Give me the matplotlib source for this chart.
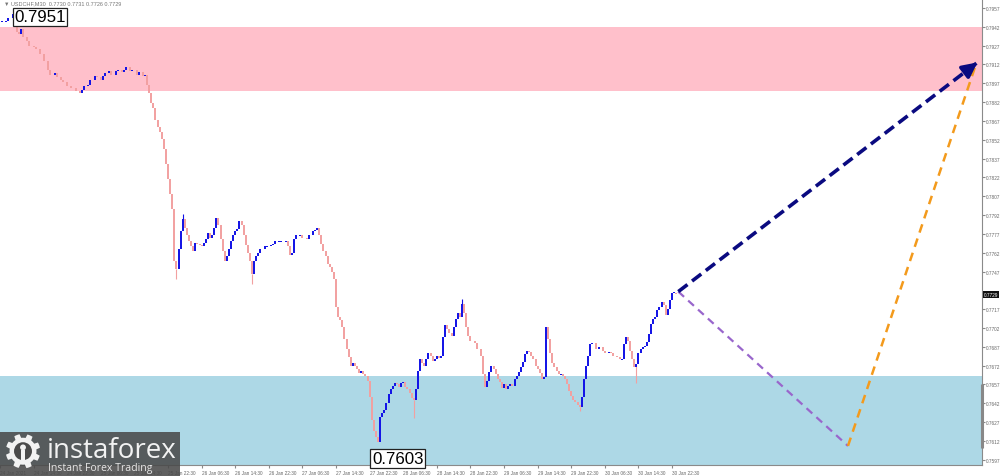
import matplotlib
matplotlib.use("Agg")
import matplotlib.pyplot as plt
from matplotlib.patches import Rectangle, Polygon, Circle
import numpy as np

# USDCHF M30 - bar index (half-hour steps from the left edge) and close
bars = [1, 3, 4, 6, 7, 8, 9, 10, 11, 13, 14, 16, 17, 19, 21, 23, 24, 26, 27, 29,
        30, 32, 34, 36, 38, 39, 40, 42, 43, 45, 46, 48, 49, 50, 52, 53, 55, 56, 58, 59,
        60, 62, 63, 65, 66, 68, 69, 70, 71, 72, 73, 74, 75, 76, 77, 78, 79, 80, 81, 82,
        83, 84, 85, 86, 87, 88, 89, 90, 91, 92, 93, 94, 95, 96, 97, 98, 99, 100, 101, 102,
        103, 104, 105, 106, 107, 108, 109, 110, 111, 112, 113, 114, 115, 116, 117, 118, 119, 120, 121, 122,
        123, 124, 126, 127, 129, 130, 131, 133, 134, 136, 137, 138, 139, 140, 141, 143, 144, 146, 147, 149,
        150, 151, 152, 153, 154, 155, 156, 157, 158, 159, 160, 161, 162, 163, 164, 165, 166, 167, 168, 169,
        170, 171, 172, 173, 174, 175, 176, 177, 178, 179, 180, 181, 182, 183, 184, 185, 186, 187, 188, 189,
        190, 191, 192, 193, 194, 195, 196, 197, 198, 199, 200, 201, 202, 203, 204, 205, 206, 207, 208, 209,
        210, 211, 212, 213, 214, 215, 216, 217, 218, 219, 220, 221, 222, 223, 224, 226, 227, 229, 230, 231,
        232, 233, 234, 235, 236, 237, 238, 239, 240, 241, 242, 243, 244, 245, 246, 247, 248, 249, 250, 251,
        252, 253, 254, 255, 256, 257, 258, 259, 260, 261, 262, 263, 264, 265, 266, 267, 268, 269, 270, 271,
        272, 273, 274, 275, 276, 277, 278, 279, 280, 281, 282, 284, 285, 287, 288, 290, 291, 292, 294, 295,
        296, 297, 298, 299, 300, 301, 302, 303, 304, 305, 306, 307, 308, 309, 310, 311, 312, 313, 314, 315,
        316, 317, 318, 319, 320, 321, 322]
closes = [.7946, .7947, .7949, .7952, .7942, .7938, .7936, .7940, .7934, .7931, .7927, .7926, .7924, .7920, .7915, .7908, .7904, .7905, .7902, .7900,
          .7898, .7895, .7893, .7891, .7889, .7892, .7895, .7896, .7900, .7903, .7902, .7900, .7903, .7905, .7907, .7904, .7907, .7908, .7906, .7908,
          .7910, .7907, .7908, .7904, .7906, .7903, .7904, .7896, .7889, .7881, .7877, .7868, .7862, .7858, .7853, .7845, .7833, .7821, .7809, .7797,
          .7755, .7749, .7765, .7779, .7789, .7782, .7776, .7771, .7767, .7763, .7770, .7769, .7768, .7767, .7770, .7773, .7778, .7774, .7776, .7782,
          .7790, .7784, .7773, .7763, .7755, .7759, .7765, .7771, .7776, .7779, .7781, .7787, .7784, .7776, .7768, .7762, .7755, .7745, .7755, .7759,
          .7762, .7765, .7767, .7767, .7768, .7769, .7771, .7771, .7771, .7771, .7767, .7760, .7762, .7773, .7776, .7776, .7774, .7773, .7776, .7779,
          .7780, .7782, .7776, .7769, .7763, .7759, .7753, .7751, .7747, .7741, .7719, .7711, .7708, .7703, .7693, .7685, .7679, .7672, .7674, .7672,
          .7669, .7666, .7668, .7665, .7664, .7660, .7647, .7629, .7620, .7615, .7611, .7631, .7634, .7637, .7642, .7649, .7653, .7656, .7658, .7657,
          .7655, .7658, .7659, .7655, .7653, .7650, .7646, .7645, .7653, .7668, .7677, .7674, .7672, .7677, .7682, .7680, .7676, .7677, .7680, .7678,
          .7680, .7695, .7704, .7701, .7698, .7696, .7703, .7709, .7714, .7711, .7721, .7714, .7703, .7696, .7692, .7690, .7685, .7680, .7665, .7655,
          .7660, .7667, .7672, .7669, .7665, .7661, .7659, .7654, .7657, .7653, .7656, .7657, .7656, .7661, .7664, .7667, .7671, .7675, .7681, .7684,
          .7683, .7680, .7677, .7672, .7669, .7666, .7661, .7663, .7703, .7693, .7682, .7674, .7671, .7668, .7665, .7665, .7664, .7661, .7657, .7652,
          .7648, .7645, .7643, .7641, .7639, .7647, .7661, .7672, .7680, .7689, .7690, .7685, .7687, .7684, .7682, .7683, .7682, .7680, .7679, .7677,
          .7677, .7689, .7695, .7692, .7684, .7677, .7671, .7673, .7682, .7685, .7687, .7688, .7691, .7697, .7705, .7709, .7711, .7716, .7719, .7723,
          .7720, .7712, .7717, .7724, .7730, .7730, .7729]

# long wicks that stick out of the bars
wick_bars = [84, 87, 120, 197, 220, 276, 303]
wick_prices = [.7741, .7793, .7737, .7630, .7725, .7636, .7658]

# zones and wave labels
sell_zone = (.7891, .7942)
buy_zone = (.7590, .7664)
high_label = (6.8, .7950, "0.7951")
low_label = (177.2, .7598, "0.7603")

# forecast paths
main_path_bars = [323, 466.5]
main_path_prices = [.7731, .7915]
alt_path_bars = [323, 403.8, 464.3]
alt_path_prices = [.7731, .7608, .7910]

price_ticks = [.7597, .7612, .7627, .7642, .7657, .7672, .7687, .7702, .7717,
               .7747, .7762, .7777, .7792, .7807, .7822, .7837, .7852, .7867,
               .7882, .7897, .7912, .7927, .7942, .7957]
time_ticks = [0, 16, 32, 48, 64, 80, 96, 112, 128, 144, 160, 176, 192, 208,
              224, 240, 256, 272, 288, 304, 320]
time_labels = ["24 Jan 2021", "24 Jan 14:30", "24 Jan 22:30", "25 Jan 06:30",
               "25 Jan 14:30", "25 Jan 22:30", "26 Jan 06:30", "26 Jan 14:30",
               "26 Jan 22:30", "27 Jan 06:30", "27 Jan 14:30", "27 Jan 22:30",
               "28 Jan 06:30", "28 Jan 14:30", "28 Jan 22:30", "29 Jan 06:30",
               "29 Jan 14:30", "29 Jan 22:30", "30 Jan 06:30", "30 Jan 14:30",
               "30 Jan 22:30"]
last_price = .7729

UP = "#1010e6"
DOWN = "#f2a0a0"
SMALL = "Liberation Sans"

fig = plt.figure(figsize=(10, 4.77), dpi=100)
ax = fig.add_axes([0, 11 / 477, 0.982, 466 / 477])
ax.set_xlim(0, 982 / 2.1)
ax.set_ylim(0.75928, 0.79642)

ax.axhspan(*sell_zone, color="#ffc0cb", lw=0, zorder=0)
ax.axhspan(*buy_zone, color="#add8e6", lw=0, zorder=0)

# bars: drawn from previous close to close
prev = closes[0]
for b, c in zip(bars, closes):
    lo, hi = min(prev, c), max(prev, c)
    if hi - lo < 0.00006:
        lo, hi = lo - 0.00003, hi + 0.00003
    col = UP if c >= prev else DOWN
    ax.vlines(b, lo, hi, colors=col, lw=1.4, zorder=3)
    prev = c

for b, p in zip(wick_bars, wick_prices):
    c = closes[bars.index(b)]
    ax.vlines(b, min(p, c), max(p, c), colors=DOWN if p < c else UP, lw=0.8, zorder=2)

# forecast lines
ax.plot(alt_path_bars[:2], alt_path_prices[:2], color="#9966cc", lw=1.6,
        ls=(0, (3.5, 2.5)), zorder=4)
ax.plot(alt_path_bars[1:], alt_path_prices[1:], color="#f39a1c", lw=1.8,
        ls=(0, (3.5, 2.5)), zorder=4)
ax.plot(main_path_bars, main_path_prices, color="#0a0a80", lw=2.6,
        ls=(0, (3.2, 1.6)), zorder=5)
ax.annotate("", xy=(main_path_bars[1], main_path_prices[1]),
            xytext=(main_path_bars[1] - 6, main_path_prices[1] - 0.00077),
            arrowprops=dict(arrowstyle="-|>", color="#0a0a80", lw=2.6,
                            mutation_scale=22), zorder=6)

# wave labels
box = dict(boxstyle="square,pad=0.1", fc="white", ec="#222222", lw=0.9)
for x, y, s in (high_label, low_label):
    ax.text(x, y, s, fontsize=12.2, family="Liberation Sans", va="center",
            ha="left", bbox=box, zorder=7)

ax.text(0.004, 0.997, "\u25bc USDCHF,M30  0.7730 0.7731 0.7726 0.7729",
        transform=ax.transAxes, fontsize=4.0, color="#777777", va="top",
        family=SMALL)

# axes styling
for s in ("top", "left"):
    ax.spines[s].set_visible(False)
for s in ("right", "bottom"):
    ax.spines[s].set_color("#8a8a8a")
    ax.spines[s].set_linewidth(0.8)
ax.yaxis.tick_right()
ax.set_yticks(price_ticks)
ax.set_yticklabels([f"{p:.4f}" for p in price_ticks], family=SMALL)
ax.tick_params(axis="y", labelsize=3.4, labelcolor="#666666", color="#8a8a8a",
               length=2, pad=1)
ax.set_xticks(time_ticks)
ax.set_xticklabels(time_labels, family=SMALL)
ax.tick_params(axis="x", labelsize=3.4, labelcolor="#666666", color="#8a8a8a",
               length=2, pad=1.5)
for lbl in ax.get_xticklabels():
    lbl.set_ha("left")

ax.vlines(1.0, 0.7606, 0.7657, transform=ax.get_yaxis_transform(),
          colors="#888888", lw=2.2, zorder=6, clip_on=False)
ax.text(1.002, last_price, f"{last_price:.4f}", transform=ax.get_yaxis_transform(),
        fontsize=3.4, color="white", va="center", ha="left", clip_on=False,
        family=SMALL,
        bbox=dict(boxstyle="square,pad=0.2", fc="#111111", ec="none"))

# logo block
fig.add_artist(Rectangle((0, 0), 0.18, 44 / 477, transform=fig.transFigure,
                         fc="#4a4a4a", ec="none", alpha=0.88, zorder=10))
fig.text(0.047, 0.040, "instaforex", fontsize=20, color="#f2f2f2",
         family="Open Sans", va="baseline", zorder=11)
fig.text(0.048, 0.012, "Instant Forex Trading", fontsize=7.6, color="#e6e6e6",
         family="Open Sans", va="baseline", zorder=11)

lg = fig.add_axes([0.004, 0.012, 0.038, 0.08], zorder=12)
lg.set_xlim(-1.1, 1.1)
lg.set_ylim(-1.1, 1.1)
lg.set_aspect("equal")
lg.axis("off")
ang = np.linspace(0, 2 * np.pi, 97)[:-1]
rad = np.where((np.arange(96) // 6) % 2 == 0, 1.0, 0.78)
lg.add_patch(Polygon(np.c_[rad * np.cos(ang + 0.2), rad * np.sin(ang + 0.2)],
                     fc="#f2f2f2", ec="none"))
lg.add_patch(Circle((0, 0), 0.52, fc="#4a4a4a", ec="none"))
lg.add_patch(Circle((0, 0.22), 0.17, fc="#f2f2f2", ec="none"))
lg.add_patch(Rectangle((-0.11, -0.75), 0.22, 0.8, fc="#f2f2f2", ec="none"))

fig.savefig("out.png", dpi=100, facecolor="white")
